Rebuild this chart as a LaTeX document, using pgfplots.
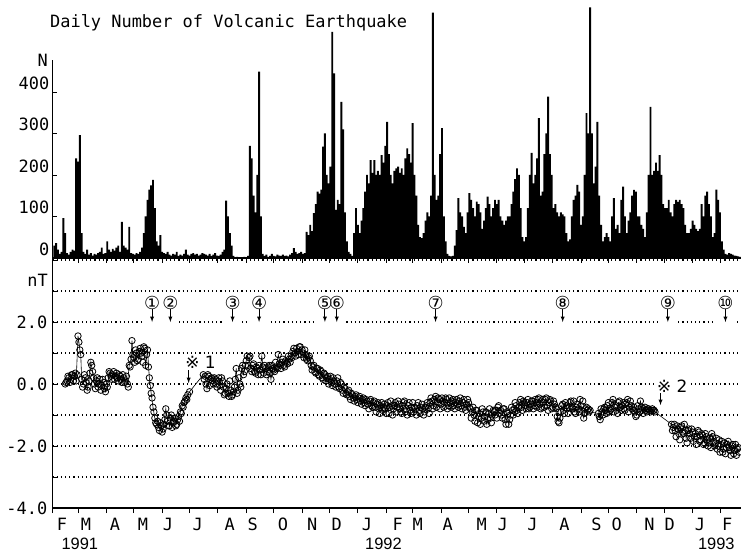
\documentclass[border=0pt]{standalone}
\usepackage{fontspec}
\setmainfont{DejaVu Sans Mono}
\newfontfamily\symfont{DejaVu Sans}
\newfontfamily\yearfont{Liberation Sans}
\usepackage{pgfplots}
\pgfplotsset{compat=1.18}
\newcommand\fs{\fontsize{17}{20}\selectfont}
\newcommand\cfont{\symfont\fontsize{18}{18}\selectfont}
% event marker: day, circled label
\newcommand\evt[2]{%
  \fill[white] (axis cs:#1,2) ++(-9bp,-2.5bp) rectangle ++(18bp,5bp);
  \node[font=\cfont, inner sep=0pt] (ev#1) at (axis cs:#1,2.63) {#2};
  \draw[-latex, line width=0.9bp] (ev#1.south) -- (axis cs:#1,2.0);
}
\begin{document}
\begin{tikzpicture}
\path[use as bounding box] (0,0) rectangle (741bp,555bp);
\node[anchor=base west, font=\fs, inner sep=0pt] at (50bp,527bp) {Daily Number of Volcanic Earthquake};
\node[anchor=base east, font=\fs, inner sep=0pt] at (48bp,488bp) {N};
\node[anchor=base east, font=\fs, inner sep=0pt] at (48bp,268bp) {nT};

% ---- daily number of volcanic earthquakes (day 0 = 1 Feb 1991)
\begin{axis}[
  at={(52.4bp,297bp)}, anchor=south west, scale only axis,
  width=688.6bp, height=198bp,
  xmin=0, xmax=753, ymin=0, ymax=477,
  axis x line=bottom, axis y line=left,
  axis line style={-, line width=1.3bp},
  clip=false,
  xtick={0,28,59,89,120,150,181,212,242,273,303,334,365,394,425,455,486,516,547,578,608,639,669,700,731},
  xticklabels={},
  ytick={0,100,200,300,400}, yticklabels={0,100,200,300,400},
  tick align=inside, major tick length=5bp,
  tick style={black, line width=0.9bp},
  major x tick style={yshift=-5bp},
  yticklabel style={font=\fs, inner sep=0pt, xshift=-3bp, yshift=9bp},
]
\addplot[ybar, bar width=2.1, fill=black, draw=none] coordinates {
(2,30) (4,36) (6,20) (8,10) (10,15) (12,96) (14,60) (16,12) (18,8) (20,15) (22,20) (24,18)
(26,240) (28,232) (30,296) (32,60) (34,15) (36,10) (38,20) (40,8) (42,12) (44,6) (46,10) (48,8)
(50,12) (52,15) (54,25) (56,10) (58,12) (60,40) (62,20) (64,15) (66,22) (68,18) (70,25) (72,30)
(74,15) (76,87) (78,30) (80,25) (82,20) (84,75) (86,12) (88,10) (90,8) (92,12) (94,10) (96,15)
(98,25) (100,60) (102,100) (104,140) (106,165) (108,175) (110,188) (112,120) (114,40) (116,30) (118,55) (120,15)
(122,12) (124,10) (126,15) (128,8) (130,6) (132,10) (134,8) (136,15) (138,5) (140,8) (142,6) (144,10)
(146,20) (148,8) (150,6) (152,10) (154,12) (156,8) (158,10) (160,6) (162,8) (164,12) (166,10) (168,8)
(170,6) (172,10) (174,5) (176,8) (178,12) (180,6) (182,5) (184,8) (186,15) (188,20) (190,138) (192,100)
(194,60) (196,30) (198,5) (200,2) (202,3) (204,2) (206,0) (208,2) (210,3) (212,2) (214,5) (216,270)
(218,240) (220,150) (222,110) (224,200) (226,449) (228,100) (230,10) (232,5) (234,8) (236,3) (238,5) (240,10)
(242,5) (244,4) (246,8) (248,6) (250,5) (252,8) (254,5) (256,6) (258,4) (260,8) (262,12) (264,24)
(266,15) (268,10) (270,12) (272,15) (274,10) (276,12) (278,63) (280,55) (282,80) (284,65) (286,108) (288,130)
(290,160) (292,155) (294,165) (296,268) (298,300) (300,200) (302,180) (304,220) (306,545) (308,445) (310,116) (312,140)
(314,130) (316,376) (318,310) (320,110) (322,40) (324,15) (326,10) (328,5) (330,60) (332,120) (334,80) (336,60)
(338,90) (340,120) (342,160) (344,200) (346,180) (348,236) (350,205) (352,236) (354,200) (356,210) (358,200) (360,248)
(362,230) (364,270) (366,328) (368,250) (370,200) (372,180) (374,210) (376,216) (378,220) (380,205) (382,216) (384,200)
(386,240) (388,264) (390,250) (392,230) (394,325) (396,200) (398,150) (400,80) (402,50) (404,48) (406,60) (408,90)
(410,110) (412,100) (414,150) (416,591) (418,200) (420,140) (422,150) (424,250) (426,313) (428,100) (430,40) (432,10)
(434,5) (436,4) (438,5) (440,30) (442,67) (444,144) (446,110) (448,100) (450,75) (452,60) (454,110) (456,156)
(458,140) (460,120) (462,100) (464,136) (466,130) (468,110) (470,70) (472,90) (474,120) (476,148) (478,130) (480,100)
(482,120) (484,140) (486,130) (488,140) (490,100) (492,90) (494,80) (496,90) (498,100) (500,100) (502,130) (504,160)
(506,190) (508,216) (510,200) (512,120) (514,50) (516,40) (518,50) (520,120) (522,200) (524,253) (526,180) (528,200)
(530,240) (532,337) (534,150) (536,160) (538,250) (540,300) (542,389) (544,250) (546,200) (548,120) (550,130) (552,110)
(554,100) (556,110) (558,105) (560,100) (562,60) (564,40) (566,45) (568,100) (570,140) (572,150) (574,176) (576,160)
(578,80) (580,100) (582,200) (584,349) (586,300) (588,604) (590,300) (592,180) (594,220) (596,328) (598,150) (600,80)
(602,40) (604,50) (606,60) (608,50) (610,40) (612,100) (614,144) (616,70) (618,80) (620,60) (622,140) (624,172)
(626,100) (628,60) (630,90) (632,110) (634,150) (636,164) (638,160) (640,100) (642,100) (644,80) (646,70) (648,50)
(650,110) (652,200) (654,364) (656,200) (658,210) (660,230) (662,210) (664,248) (666,200) (668,130) (670,120) (672,120)
(674,140) (676,110) (678,100) (680,130) (682,140) (684,135) (686,140) (688,130) (690,120) (692,80) (694,60) (696,60)
(698,70) (700,90) (702,80) (704,70) (706,65) (708,70) (710,130) (712,100) (714,150) (716,160) (718,130) (720,100)
(722,50) (724,60) (726,165) (728,140) (730,110) (732,40) (734,20) (736,10) (738,8) (740,12) (742,10) (744,8)
(746,6) (748,5) (750,4) (752,3)
};
\end{axis}

% ---- geomagnetic total intensity difference (nT)
\begin{axis}[
  at={(52.4bp,47bp)}, anchor=south west, scale only axis,
  width=688.6bp, height=248bp,
  xmin=0, xmax=753, ymin=-4, ymax=4,
  axis x line=bottom, axis y line=left,
  axis line style={-, line width=1.3bp},
  clip=false,
  xtick={0,28,59,89,120,150,181,212,242,273,303,334,365,394,425,455,486,516,547,578,608,639,669,700,731},
  xticklabels={},
  minor x tick num=9,
  extra x ticks={10.5,36.7,68.4,99,126.4,159,194,219,252,284,311,344,377.7,399.6,432.4,469.5,492.5,525,560,595,617,653,675,708,738},
  extra x tick labels={F,M,A,M,J,J,A,S,O,N,D,J,F,M,A,M,J,J,A,S,O,N,D,J,F},
  extra x tick style={major tick length=0pt, minor tick length=0pt,
    tick label style={anchor=center, yshift=-16bp, font=\fs}},
  ytick={-4,-3,-2,-1,0,1,2,3,4}, yticklabels={-4.0,,-2.0,,0.0,,2.0,,},
  ymajorgrids, grid style={black, dash pattern=on 1.2bp off 3bp, line width=1.1bp},
  tick align=inside, major tick length=5bp, minor tick length=3bp,
  tick style={black, line width=0.9bp},
  major x tick style={yshift=-5bp},
  yticklabel style={font=\fs, inner sep=0pt, xshift=-5bp},
]
% connected daily series
\addplot[black, line width=0.6bp, mark=o, mark size=3.2bp, mark options={line width=0.8bp}] coordinates {
(14,0.0) (16,0.1) (18,0.2) (20,0.15) (22,0.3) (24,0.25) (26,0.1) (28,1.55) (29,1.35) (30,1.1) (31,0.95)
(32,0.15) (34,0.0) (36,0.2) (38,-0.2) (40,0.1) (42,0.7) (44,0.4) (46,0.0) (48,0.1) (50,-0.1) (52,0.15)
(54,-0.05) (56,0.05) (58,-0.25) (60,-0.1) (62,0.4) (64,0.25) (66,0.3) (68,0.15) (70,0.35) (72,0.1)
(74,0.25) (76,0.05) (78,0.2) (80,0.1) (82,0.0) (84,0.6) (86,0.8) (87,1.4) (88,0.95) (90,0.7) (92,1.0)
(94,0.8) (96,1.15) (98,0.9) (100,1.2) (102,0.6) (104,1.1) (106,0.2) (108,-0.3) (110,-0.75) (112,-1.1)
(114,-1.3) (116,-1.4) (118,-1.25) (120,-1.55) (122,-1.3) (124,-0.8) (126,-1.2) (128,-1.35) (130,-1.0)
(132,-1.25) (134,-1.1) (136,-1.3) (138,-1.05) (140,-0.9) (142,-0.7) (144,-0.6) (146,-0.45) (148,-0.35)
(150,-0.25)
(165,0.3) (167,0.25) (169,-0.15) (171,0.25) (173,0.15) (175,0.1) (177,0.2) (179,0.0) (181,0.1)
(183,-0.05) (185,0.2) (187,-0.1) (189,-0.3) (191,0.0) (193,-0.4) (195,-0.2) (197,-0.35) (199,-0.1)
(201,0.5) (203,-0.2) (205,0.0) (207,0.5) (209,0.3) (211,0.6) (213,0.9) (215,0.85) (217,0.5) (219,0.6)
(221,0.4) (223,0.55) (225,0.3) (227,0.45) (229,0.9) (231,0.35) (233,0.5) (235,0.4) (237,0.6) (239,0.15)
(241,0.5) (243,0.4) (245,0.55) (247,0.95) (249,0.6) (251,0.7) (253,0.6) (255,0.75) (257,0.65) (259,0.8)
(261,0.9) (263,1.05) (265,1.0) (267,1.15) (269,0.95) (271,1.2) (273,1.1) (275,0.85) (277,0.95) (279,0.75)
(281,0.9) (283,0.6) (285,0.55) (287,0.4) (289,0.5) (291,0.3) (293,0.45) (295,0.2) (297,0.35) (299,0.1)
(301,0.25) (303,0.15) (305,0.05) (307,0.2) (309,0.0) (311,0.1) (313,-0.1) (315,0.05) (317,-0.2) (319,-0.1)
(321,-0.3) (323,-0.25) (325,-0.4) (327,-0.3) (329,-0.45) (331,-0.4) (333,-0.5) (335,-0.45) (337,-0.55)
(339,-0.5) (341,-0.6) (343,-0.5) (345,-0.65) (347,-0.55) (349,-0.7) (351,-0.6) (353,-0.75) (355,-0.65)
(357,-0.8) (359,-0.7) (361,-0.85) (363,-0.65) (365,-0.95) (367,-0.6) (369,-0.75) (371,-0.7) (373,-0.8)
(375,-0.6) (377,-0.75) (379,-0.65) (381,-0.9) (383,-0.7) (385,-0.55) (387,-0.8) (389,-0.7) (391,-0.85)
(393,-0.75) (395,-0.9) (397,-0.8) (399,-0.7) (401,-0.85) (403,-0.75) (405,-0.8) (407,-0.9) (409,-0.7)
(411,-0.8) (413,-0.6) (415,-0.55) (417,-0.7) (419,-0.4) (421,-0.6) (423,-0.5) (425,-0.65) (427,-0.55)
(429,-0.6) (431,-0.5) (433,-0.7) (435,-0.6) (437,-0.55) (439,-0.7) (441,-0.6) (443,-0.65) (445,-0.55)
(447,-0.7) (449,-0.6) (451,-0.75) (453,-0.65) (455,-0.6) (457,-0.8) (459,-0.9) (461,-1.0) (463,-0.85)
(465,-1.25) (467,-0.95) (469,-1.1) (471,-0.9) (473,-1.05) (475,-1.3) (477,-0.95) (479,-1.1) (481,-1.0)
(483,-0.9) (485,-0.85) (487,-0.75) (489,-0.95) (491,-1.0) (493,-0.8) (495,-1.15) (497,-0.9) (499,-1.3)
(501,-1.0) (503,-0.85) (505,-0.8) (507,-0.7) (509,-0.95) (511,-0.6) (513,-0.75) (515,-0.55) (517,-0.7)
(519,-0.6) (521,-0.8) (523,-0.65) (525,-0.55) (527,-0.7) (529,-0.6) (531,-0.5) (533,-0.65) (535,-0.75)
(537,-0.6) (539,-0.5) (541,-0.7) (543,-0.6) (545,-0.55) (547,-0.75) (549,-0.65) (551,-0.8) (553,-1.2)
(555,-1.1) (557,-0.7) (559,-0.85) (561,-0.6) (563,-0.8) (565,-0.75) (567,-0.55) (569,-0.8) (571,-0.9)
(573,-0.75) (575,-0.8) (577,-0.5) (579,-0.85) (581,-1.1) (583,-0.8) (585,-0.85) (587,-0.9)
(597,-0.95) (599,-1.15) (601,-0.9) (603,-0.8) (605,-0.85) (607,-0.7) (609,-0.9) (611,-0.8) (613,-0.5)
(615,-0.75) (617,-0.85) (619,-0.6) (621,-0.75) (623,-0.7) (625,-0.8) (627,-0.65) (629,-0.5) (631,-0.75)
(633,-0.7) (635,-0.85) (637,-0.9) (639,-1.0) (641,-0.8) (643,-0.55) (645,-0.85) (647,-0.8) (649,-0.85)
(651,-0.8) (653,-0.85) (655,-0.85) (657,-0.85) (659,-0.9)
(677,-1.3) (679,-1.4) (681,-1.5) (683,-1.35) (685,-1.6) (687,-1.4) (689,-1.55) (691,-1.3) (693,-1.75)
(695,-1.5) (697,-1.6) (699,-1.45) (701,-1.85) (703,-1.6) (705,-1.7) (707,-1.55) (709,-1.8) (711,-1.65)
(713,-1.9) (715,-1.7) (717,-2.0) (719,-1.75) (721,-1.6) (723,-1.85) (725,-1.9) (727,-2.1) (729,-1.8)
(731,-1.95) (733,-2.2) (735,-1.9) (737,-2.05) (739,-1.85) (741,-2.15) (743,-2.0) (745,-2.25) (747,-1.95)
(749,-2.1) (751,-2.2)
};
% the in-between days
\addplot[only marks, black, mark=o, mark size=3.2bp, mark options={line width=0.8bp}] coordinates {
(15,0.05) (17,0.25) (19,0.05) (21,0.3) (23,0.1) (25,0.35) (27,0.3) (33,-0.1) (35,0.3) (37,0.05) (39,-0.1)
(41,0.35) (43,0.6) (45,0.2) (47,-0.15) (49,0.2) (51,0.0) (53,-0.2) (55,0.15) (57,-0.15) (59,0.0) (61,0.2)
(63,0.35) (65,0.15) (67,0.4) (69,0.25) (71,0.2) (73,0.3) (75,0.15) (77,0.3) (79,0.05) (81,0.25) (83,-0.1)
(85,0.55) (89,0.85) (91,1.1) (93,0.75) (95,1.05) (97,1.0) (99,0.7) (101,1.15) (103,0.95) (105,0.55)
(107,-0.05) (109,-0.45) (111,-0.9) (113,-1.25) (115,-1.2) (117,-1.5) (119,-1.35) (121,-1.45) (123,-1.15)
(125,-1.0) (127,-1.35) (129,-1.1) (131,-1.4) (133,-1.2) (135,-1.35) (137,-1.15) (139,-1.2) (141,-0.95)
(143,-0.75) (145,-0.55) (147,-0.5)
(166,0.15) (168,0.0) (170,0.3) (172,-0.05) (174,0.2) (176,0.0) (178,0.15) (180,-0.1) (182,0.2) (184,-0.2)
(186,0.1) (188,-0.35) (190,-0.15) (192,-0.3) (194,0.1) (196,-0.4) (198,-0.25) (200,0.15) (202,-0.3)
(204,0.2) (206,-0.1) (208,0.6) (210,0.4) (212,0.75) (214,0.6) (216,0.9) (218,0.4) (220,0.65) (222,0.35)
(224,0.5) (226,0.6) (228,0.3) (230,0.55) (232,0.6) (234,0.3) (236,0.55) (238,0.35) (240,0.6) (242,0.45)
(244,0.7) (246,0.5) (248,0.65) (250,0.5) (252,0.8) (254,0.55) (256,0.7) (258,0.9) (260,0.7) (262,0.85)
(264,1.15) (266,0.9) (268,1.05) (270,1.2) (272,0.95) (274,1.0) (276,1.1) (278,0.8) (280,0.85) (282,0.75)
(284,0.45) (286,0.6) (288,0.35) (290,0.5) (292,0.25) (294,0.4) (296,0.15) (298,0.3) (300,0.2) (302,0.0)
(304,0.25) (306,-0.05) (308,0.1) (310,-0.1) (312,0.2) (314,-0.15) (316,0.0) (318,-0.3) (320,-0.15)
(322,-0.35) (324,-0.2) (326,-0.5) (328,-0.35) (330,-0.55) (332,-0.35) (334,-0.6) (336,-0.4) (338,-0.65)
(340,-0.45) (342,-0.7) (344,-0.55) (346,-0.8) (348,-0.5) (350,-0.75) (352,-0.55) (354,-0.9) (356,-0.6)
(358,-0.95) (360,-0.6) (362,-0.75) (364,-0.8) (366,-0.7) (368,-0.95) (370,-0.55) (372,-1.0) (374,-0.7)
(376,-0.9) (378,-0.55) (380,-0.8) (382,-0.95) (384,-0.6) (386,-0.9) (388,-1.0) (390,-0.6) (392,-0.95)
(394,-0.6) (396,-0.75) (398,-1.0) (400,-0.6) (402,-0.95) (404,-0.65) (406,-1.0) (408,-0.75) (410,-0.6)
(412,-0.95) (414,-0.45) (416,-0.8) (418,-0.5) (420,-0.75) (422,-0.45) (424,-0.8) (426,-0.45) (428,-0.75)
(430,-0.45) (432,-0.8) (434,-0.45) (436,-0.75) (438,-0.5) (440,-0.8) (442,-0.5) (444,-0.75) (446,-0.45)
(448,-0.8) (450,-0.5) (452,-0.85) (454,-0.5) (456,-0.75) (458,-1.1) (460,-0.75) (462,-1.2) (464,-0.85)
(466,-1.05) (468,-1.3) (470,-0.8) (472,-1.2) (474,-0.9) (476,-1.15) (478,-0.8) (480,-1.25) (482,-0.85)
(484,-1.0) (486,-1.1) (488,-0.7) (490,-0.85) (492,-1.1) (494,-0.8) (496,-1.3) (498,-0.95) (500,-1.15)
(502,-0.75) (504,-1.0) (506,-0.6) (508,-0.85) (510,-0.75) (512,-0.5) (514,-0.85) (516,-0.6) (518,-0.8)
(520,-0.5) (522,-0.75) (524,-0.55) (526,-0.8) (528,-0.5) (530,-0.75) (532,-0.45) (534,-0.8) (536,-0.5)
(538,-0.75) (540,-0.45) (542,-0.85) (544,-0.5) (546,-0.8) (548,-0.55) (550,-0.75) (552,-1.05) (554,-1.25)
(556,-0.9) (558,-0.65) (560,-0.95) (562,-0.7) (564,-0.95) (566,-0.6) (568,-0.75) (570,-0.55) (572,-0.95)
(574,-0.65) (576,-0.9) (578,-0.7) (580,-0.55) (582,-0.95) (584,-0.75) (586,-0.8) (588,-0.85)
(598,-1.05) (600,-0.8) (602,-1.0) (604,-0.75) (606,-0.95) (608,-0.6) (610,-0.85) (612,-0.6) (614,-0.9)
(616,-0.7) (618,-0.95) (620,-0.55) (622,-0.85) (624,-0.6) (626,-0.85) (628,-0.6) (630,-0.9) (632,-0.55)
(634,-0.8) (636,-0.75) (638,-1.05) (640,-0.7) (642,-0.9) (644,-0.75) (646,-0.95) (648,-0.75) (650,-0.9)
(652,-0.8) (654,-0.9) (656,-0.8) (658,-0.85)
(678,-1.5) (680,-1.3) (682,-1.7) (684,-1.45) (686,-1.8) (688,-1.35) (690,-1.6) (692,-1.5) (694,-1.9)
(696,-1.45) (698,-1.75) (700,-1.55) (702,-1.7) (704,-1.95) (706,-1.5) (708,-1.85) (710,-1.6) (712,-1.95)
(714,-1.6) (716,-1.8) (718,-1.9) (720,-2.05) (722,-1.7) (724,-2.0) (726,-1.75) (728,-2.0) (730,-2.2)
(732,-1.85) (734,-2.1) (736,-2.25) (738,-1.95) (740,-2.05) (742,-2.3) (744,-1.95) (746,-2.15) (748,-2.3)
(750,-2.05)
};
\evt{109}{①}
\evt{129}{②}
\evt{197}{③}
\evt{226}{④}
\evt{298}{⑤}
\evt{311}{⑥}
\evt{419}{⑦}
\evt{558}{⑧}
\evt{673}{⑨}
\evt{736}{⑩}
\node[anchor=west, font=\symfont\fs, inner sep=1bp, fill=white] at (axis cs:144,0.71) {※ 1};
\draw[-latex, line width=0.9bp] (axis cs:149,0.45) -- (axis cs:149,0.03);
\node[anchor=west, font=\symfont\fs, inner sep=1bp, fill=white] at (axis cs:660,-0.06) {※ 2};
\draw[-latex, line width=0.9bp] (axis cs:665,-0.3) -- (axis cs:665,-0.68);
\node[font=\yearfont\fontsize{16.5}{18}\selectfont] at (axis cs:30,-4) [yshift=-36bp] {1991};
\node[font=\yearfont\fontsize{16.5}{18}\selectfont] at (axis cs:362,-4) [yshift=-36bp] {1992};
\node[font=\yearfont\fontsize{16.5}{18}\selectfont] at (axis cs:726,-4) [yshift=-36bp] {1993};
\end{axis}
\end{tikzpicture}
\end{document}
